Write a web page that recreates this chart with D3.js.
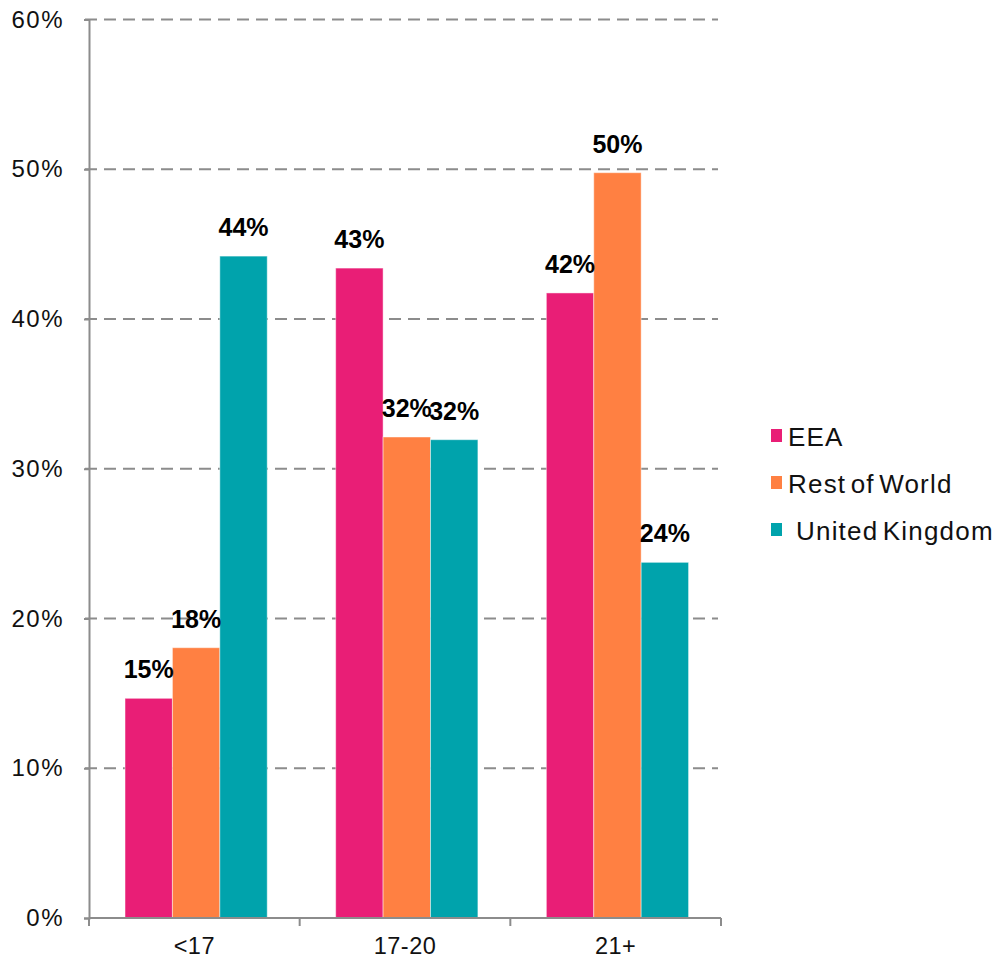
<!DOCTYPE html>
<html>
<head>
<meta charset="utf-8">
<script src="https://cdn.jsdelivr.net/npm/d3@7"></script>
<style>
  html, body { margin: 0; padding: 0; background: #fff; }
  svg { display: block; font-family: "Liberation Sans", Arial, sans-serif; }
</style>
</head>
<body>
<svg id="chart" width="998" height="958"></svg>
<script>
// Age groups on the x axis
const categories = ["<17", "17-20", "21+"];
// Series (domicile) names and colours
const seriesNames = ["EEA", "Rest of World", "United Kingdom"];
const seriesColors = ["#E91E76", "#FF8042", "#00A3AC"];
// Share of each series within each age group (fractions)
const eeaValues = [0.1467, 0.434, 0.4174];
const rowValues = [0.1805, 0.3212, 0.4977];
const ukValues = [0.442, 0.3194, 0.2375];
// Value-axis ticks
const yTicks = [0, 0.1, 0.2, 0.3, 0.4, 0.5, 0.6];

const seriesValues = [eeaValues, rowValues, ukValues];
const rows = categories.map((c, i) => ({
  category: c,
  values: seriesNames.map((s, j) => ({ series: s, value: seriesValues[j][i], color: seriesColors[j] }))
}));

const svg = d3.select("#chart");
const plot = { left: 89, right: 721, top: 19.5, bottom: 918 };
const axisColor = "#8C8C8C";

const x = d3.scaleBand().domain(categories).range([plot.left, plot.right]).padding(0);
const bw = x.bandwidth();
const xs = d3.scaleBand().domain(seriesNames).range([bw * 0.171, bw * 0.846]).padding(0);
const y = d3.scaleLinear().domain([0, 0.6]).range([plot.bottom, plot.top]);

// Dashed horizontal gridlines
svg.append("g")
  .selectAll("line")
  .data(yTicks.filter(t => t > 0))
  .join("line")
  .attr("x1", plot.left - 4)
  .attr("x2", 718)
  .attr("y1", d => y(d))
  .attr("y2", d => y(d))
  .attr("stroke", axisColor)
  .attr("stroke-width", 2)
  .attr("stroke-dasharray", "12,7");

// Y axis
const yAxis = svg.append("g")
  .attr("transform", `translate(${plot.left},0)`)
  .call(d3.axisLeft(y).tickValues(yTicks).tickFormat(d3.format(".0%")).tickSize(5).tickPadding(20));
yAxis.attr("font-size", null).attr("font-family", null);
yAxis.select(".domain").attr("stroke", axisColor).attr("stroke-width", 2);
yAxis.selectAll(".tick line").attr("stroke", axisColor).attr("stroke-width", 2);
yAxis.selectAll(".tick text")
  .attr("font-size", 24)
  .attr("letter-spacing", 1.5)
  .attr("fill", "#111");

// Bars
const groups = svg.append("g")
  .selectAll("g")
  .data(rows)
  .join("g")
  .attr("transform", d => `translate(${x(d.category)},0)`);

groups.selectAll("rect")
  .data(d => d.values)
  .join("rect")
  .attr("x", d => xs(d.series))
  .attr("width", xs.bandwidth())
  .attr("y", d => y(d.value))
  .attr("height", d => y(0) - y(d.value))
  .attr("fill", d => d.color)
  .attr("stroke", "rgba(255,255,255,0.45)")
  .attr("stroke-width", 1);

// Value labels
groups.selectAll("text")
  .data(d => d.values)
  .join("text")
  .attr("x", d => xs(d.series) + xs.bandwidth() / 2)
  .attr("y", d => y(d.value) - 20)
  .attr("text-anchor", "middle")
  .attr("font-size", 25)
  .attr("font-weight", "bold")
  .attr("fill", "#000")
  .text(d => d3.format(".0%")(d.value));

// X axis with tick marks at band boundaries
const xAxisG = svg.append("g").attr("transform", `translate(0,${plot.bottom})`);
xAxisG.append("line")
  .attr("x1", plot.left).attr("x2", plot.right)
  .attr("stroke", axisColor).attr("stroke-width", 2);
xAxisG.selectAll("line.tick")
  .data(categories.map(c => x(c)).concat([plot.right]))
  .join("line")
  .attr("class", "tick")
  .attr("x1", d => d).attr("x2", d => d)
  .attr("y1", 0).attr("y2", 8)
  .attr("stroke", axisColor).attr("stroke-width", 2);
xAxisG.selectAll("text")
  .data(categories)
  .join("text")
  .attr("x", d => x(d) + bw / 2)
  .attr("y", 36)
  .attr("text-anchor", "middle")
  .attr("font-size", 23.5)
  .attr("letter-spacing", 0.5)
  .attr("fill", "#111")
  .text(d => d);

// Legend
const legend = svg.append("g").attr("transform", "translate(771,0)");
const legendRows = [446, 493, 540];
const legendItems = legend.selectAll("g")
  .data(seriesNames)
  .join("g")
  .attr("transform", (d, i) => `translate(0,${legendRows[i]})`);
legendItems.append("rect")
  .attr("x", 0).attr("y", -17)
  .attr("width", 11).attr("height", 13)
  .attr("fill", (d, i) => seriesColors[i]);
legendItems.append("text")
  .attr("x", (d, i) => i === 2 ? 25 : 17)
  .attr("y", 0)
  .attr("font-size", 26)
  .attr("letter-spacing", 1.2)
  .attr("word-spacing", -4)
  .attr("fill", "#111")
  .text(d => d);
</script>
</body>
</html>
